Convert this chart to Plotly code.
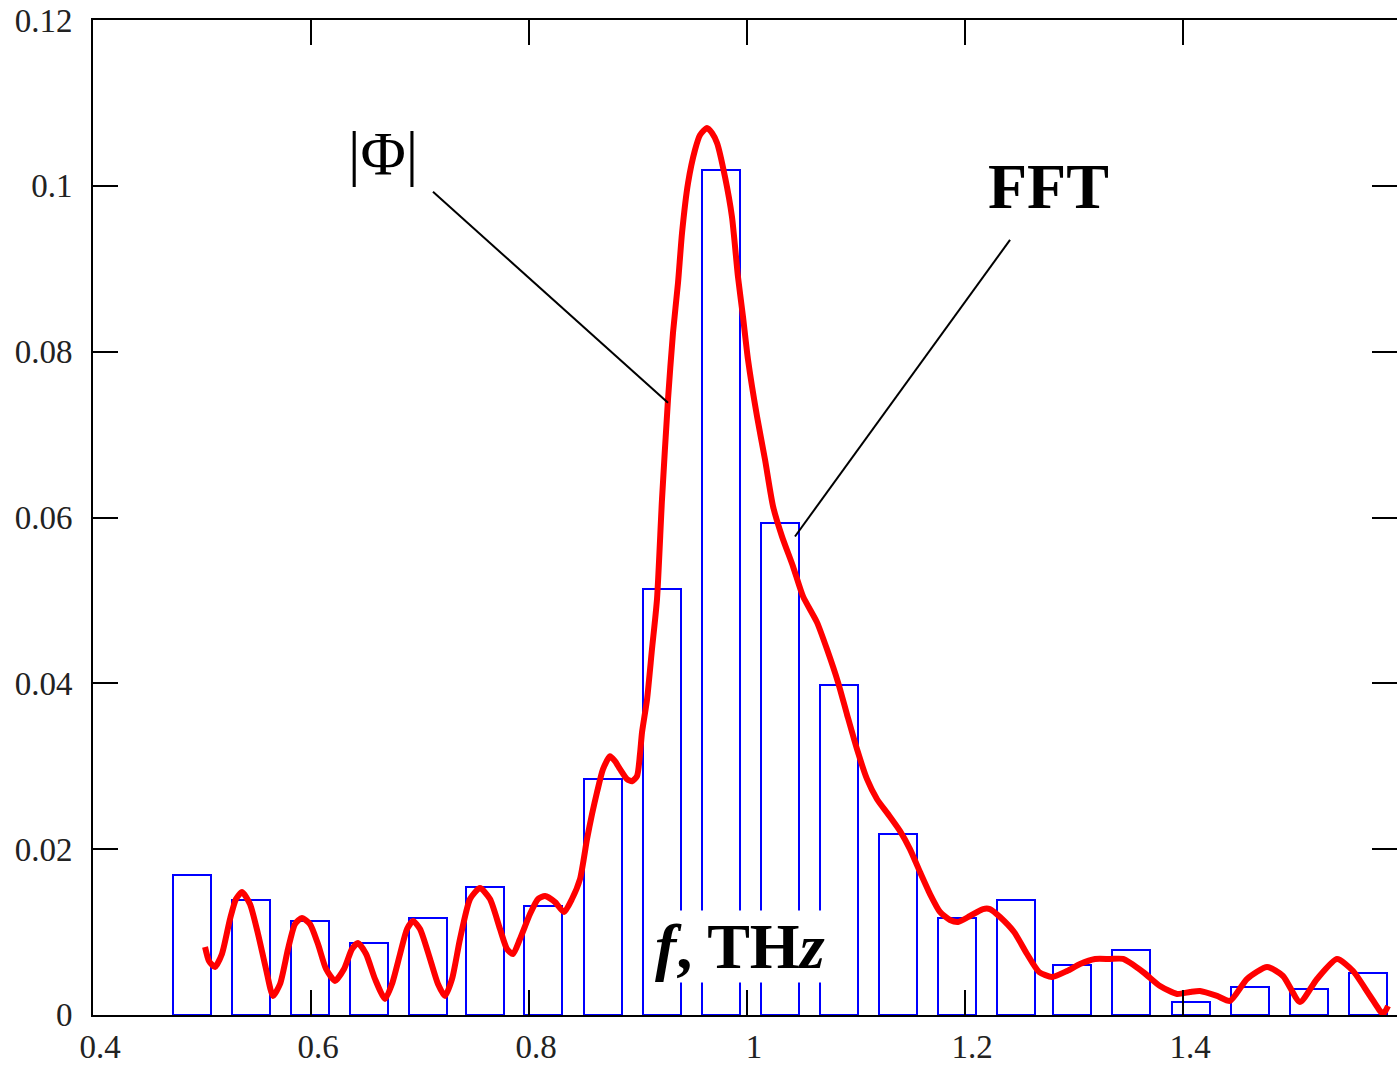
import plotly.graph_objects as go

# FFT spectrum bins (THz) and their amplitudes
fft_freq = [0.4908, 0.5450, 0.5991, 0.6532, 0.7073, 0.7596, 0.8128, 0.8679,
            0.9220, 0.9761, 1.0303, 1.0844, 1.1385, 1.1927, 1.2468, 1.2982,
            1.3523, 1.4073, 1.4615, 1.5156, 1.5697]
fft_amp = [0.01687, 0.01386, 0.01133, 0.00867, 0.01169, 0.01542, 0.01313, 0.02843,
           0.05132, 0.1019, 0.05928, 0.03976, 0.02181, 0.01169, 0.01386, 0.00602,
           0.00783, 0.00157, 0.00337, 0.00313, 0.00506]
fft_bin_width = 0.0349

# |Phi| spectral amplitude curve
phi_freq = [0.5028, 0.5064, 0.5119, 0.5183, 0.5257, 0.5312, 0.5367, 0.5440, 0.5514, 0.5587,
            0.5651, 0.5716, 0.5789, 0.5853, 0.5917, 0.5991, 0.6064, 0.6138, 0.6220, 0.6303,
            0.6376, 0.6431, 0.6505, 0.6587, 0.6679, 0.6743, 0.6817, 0.6881, 0.6936, 0.7000,
            0.7092, 0.7165, 0.7229, 0.7294, 0.7367, 0.7459, 0.7550, 0.7642, 0.7734, 0.7798,
            0.7853, 0.7917, 0.8009, 0.8083, 0.8147, 0.8239, 0.8321, 0.8394, 0.8468, 0.8532,
            0.8578, 0.8624, 0.8679, 0.8743, 0.8789, 0.8835, 0.8899, 0.8945, 0.8991, 0.9018,
            0.9037, 0.9083, 0.9128, 0.9174, 0.9220, 0.9275, 0.9321, 0.9367, 0.9404, 0.9459,
            0.9523, 0.9569, 0.9633, 0.9679, 0.9725, 0.9798, 0.9862, 0.9917, 0.9963, 1.0009,
            1.0092, 1.0165, 1.0239, 1.0321, 1.0422, 1.0514, 1.0642, 1.0734, 1.0835, 1.0917,
            1.1009, 1.1101, 1.1193, 1.1294, 1.1404, 1.1495, 1.1587, 1.1679, 1.1771, 1.1862,
            1.1936, 1.2046, 1.2165, 1.2229, 1.2321, 1.2450, 1.2569, 1.2679, 1.2798, 1.2936,
            1.3055, 1.3193, 1.3330, 1.3450, 1.3633, 1.3789, 1.3945, 1.4064, 1.4156, 1.4312,
            1.4431, 1.4587, 1.4771, 1.4917, 1.5073, 1.5229, 1.5413, 1.5560, 1.5716, 1.5835,
            1.5881]
phi_amp = [0.00819, 0.00651, 0.00578, 0.00735, 0.01157, 0.01398, 0.01482, 0.01337, 0.00976, 0.00554,
           0.00229, 0.00373, 0.00795, 0.01096, 0.01169, 0.01096, 0.00855, 0.00554, 0.00410, 0.00554,
           0.00795, 0.00867, 0.00735, 0.00434, 0.00193, 0.00373, 0.00735, 0.01036, 0.01133, 0.01036,
           0.00675, 0.00373, 0.00229, 0.00434, 0.00916, 0.01398, 0.01530, 0.01398, 0.01036, 0.00795,
           0.00735, 0.00916, 0.01217, 0.01398, 0.01434, 0.01361, 0.01241, 0.01398, 0.01639, 0.02120,
           0.02422, 0.02687, 0.02964, 0.03120, 0.03060, 0.02964, 0.02843, 0.02819, 0.02880, 0.03145,
           0.03410, 0.03807, 0.04410, 0.05012, 0.06217, 0.07422, 0.08229, 0.08831, 0.09434, 0.10036,
           0.10434, 0.10614, 0.10699, 0.10638, 0.10518, 0.10108, 0.09626, 0.08904, 0.08422, 0.07904,
           0.07217, 0.06699, 0.06133, 0.05771, 0.05410, 0.05048, 0.04735, 0.04410, 0.04012, 0.03626,
           0.03205, 0.02843, 0.02602, 0.02422, 0.02217, 0.02000, 0.01723, 0.01458, 0.01241, 0.01145,
           0.01120, 0.01193, 0.01277, 0.01277, 0.01181, 0.01000, 0.00735, 0.00518, 0.00458, 0.00530,
           0.00614, 0.00675, 0.00675, 0.00675, 0.00518, 0.00349, 0.00253, 0.00277, 0.00289, 0.00229,
           0.00169, 0.00434, 0.00578, 0.00470, 0.00157, 0.00434, 0.00675, 0.00530, 0.00229, 0.00012,
           0.00108]

x_tick_vals = [0.4, 0.6, 0.8, 1.0, 1.2, 1.4]
x_tick_text = ["0.4", "0.6", "0.8", "1", "1.2", "1.4"]
y_tick_vals = [0, 0.02, 0.04, 0.06, 0.08, 0.10, 0.12]
y_tick_text = ["0", "0.02", "0.04", "0.06", "0.08", "0.1", "0.12"]

X_RANGE = [0.4, 1.5963]
Y_RANGE = [-0.00001, 0.12001]

SERIF = "Liberation Serif, Times New Roman, serif"

fig = go.Figure()

# FFT bins as hollow blue rectangles
fig.add_trace(go.Bar(
    x=fft_freq, y=fft_amp, width=fft_bin_width,
    marker=dict(color="rgba(0,0,0,0)", line=dict(color="#0000ff", width=2)),
    showlegend=False, hoverinfo="skip",
))

# |Phi| curve on the overlaid axis so it sits above the bars
fig.add_trace(go.Scatter(
    x=phi_freq, y=phi_amp, mode="lines", yaxis="y2",
    line=dict(color="#ff0000", width=6, shape="spline", smoothing=0.6),
    showlegend=False, hoverinfo="skip",
))

tick_style = dict(ticks="inside", ticklen=25, tickwidth=2, tickcolor="black",
                  showgrid=False, zeroline=False)
label_font = dict(family=SERIF, size=33, color="#222")

fig.update_layout(
    width=1397, height=1065,
    margin=dict(l=93, r=0, t=20, b=43),
    paper_bgcolor="white", plot_bgcolor="white",
    bargap=0,
    xaxis=dict(
        range=X_RANGE, tickvals=x_tick_vals, ticktext=x_tick_text,
        showline=True, linecolor="black", linewidth=2, mirror="ticks",
        ticklabelshift=7, ticklabelstandoff=1, tickfont=label_font,
        **tick_style,
    ),
    yaxis=dict(
        range=Y_RANGE, tickvals=y_tick_vals, ticktext=y_tick_text,
        showline=True, linecolor="black", linewidth=2,
        ticklabelstandoff=12, tickfont=label_font,
        **tick_style,
    ),
    yaxis2=dict(
        range=Y_RANGE, tickvals=y_tick_vals, overlaying="y", side="right",
        showticklabels=False, showline=False,
        **tick_style,
    ),
)

# Curve labels with leader lines
fig.add_annotation(x=0.666, y=0.1040, xref="x", yref="y", text="|Φ|",
                   showarrow=False, font=dict(family=SERIF, size=62, color="black"))
fig.add_annotation(x=1.277, y=0.0999, xref="x", yref="y", text="<b>FFT</b>",
                   showarrow=False, font=dict(family=SERIF, size=64, color="black"))
fig.add_annotation(x=0.9936, y=0.0082, xref="x", yref="y",
                   text="<b><i>f</i>, TH<i>z</i></b>",
                   showarrow=False, bgcolor="white", borderpad=0,
                   font=dict(family=SERIF, size=64, color="black"))

fig.add_shape(type="line", xref="x", yref="y", x0=0.7119, y0=0.09928, x1=0.9275, y1=0.07385,
              line=dict(color="black", width=2), layer="above")
fig.add_shape(type="line", xref="x", yref="y", x0=1.2413, y0=0.09349, x1=1.0440, y1=0.05771,
              line=dict(color="black", width=2), layer="above")

fig.write_html("out.html")
